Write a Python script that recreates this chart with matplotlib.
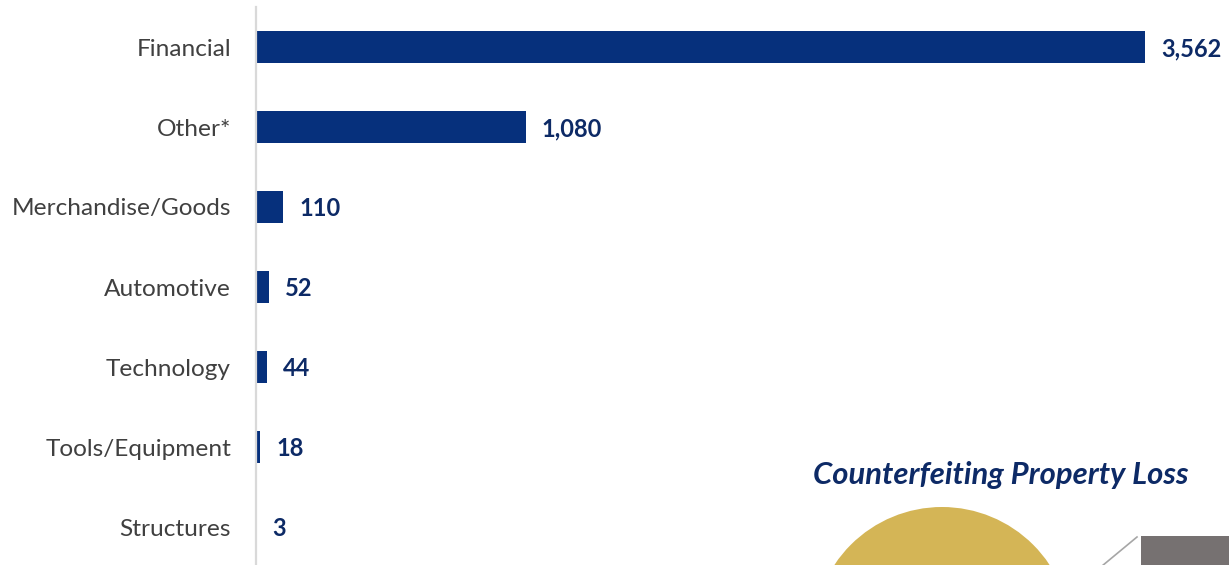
import matplotlib.pyplot as plt
from matplotlib.patches import Circle, Rectangle

# ================== DATA ==================
categories = ["Financial", "Other*", "Merchandise/Goods", "Automotive",
              "Technology", "Tools/Equipment", "Structures"]
values = [3562, 1080, 110, 52, 44, 18, 3]
title = "Counterfeiting Property Loss"

BAR_COLOR = "#06307C"
TEXT_NAVY = "#0D2A66"
GOLD = "#D4B556"
GREY_BOX = "#767171"

plt.rcParams["font.family"] = ["Lato", "DejaVu Sans"]

W, H = 1229, 565
fig = plt.figure(figsize=(W / 100, H / 100), dpi=100)

# ================== BAR CHART ==================
left = 256 / W
ax = fig.add_axes([left, 1 - 567 / H, 1 - left, 560 / H])
y = list(range(len(categories)))
ax.barh(y, values, height=0.39, color=BAR_COLOR)
ax.set_ylim(len(categories) - 0.5, -0.5)
ax.set_xlim(0, (W - 256) / 0.2496)
ax.set_yticks(y)
ax.set_yticklabels(categories, fontsize=17.6, color="#404040")
ax.tick_params(axis="y", length=0, pad=18)
ax.set_xticks([])
for s in ["top", "right", "bottom"]:
    ax.spines[s].set_visible(False)
ax.spines["left"].set_color("#D9D9D9")
ax.spines["left"].set_linewidth(1.6)
ax.patch.set_alpha(0)

for yi, v in zip(y, values):
    ax.annotate(f"{v:,}", xy=(v, yi), xytext=(16, -2), textcoords="offset pixels",
                ha="left", va="center", fontsize=17, fontweight="bold", color=TEXT_NAVY)

# ================== DECORATION (pixel overlay) ==================
ov = fig.add_axes([0, 0, 1, 1], zorder=-1)
ov.set_xlim(0, W)
ov.set_ylim(H, 0)
ov.axis("off")
ov.add_patch(Circle((942, 636), 129, color=GOLD, lw=0))
ov.add_patch(Rectangle((1141, 536), 100, 40, color=GREY_BOX, lw=0))
ov.plot([1137, 1102], [537, 566], color="#A6A6A6", lw=1.2)
ov.text(1001, 475, title, ha="center", va="center", fontsize=22.3,
        fontweight="bold", fontstyle="italic", color=TEXT_NAVY)

fig.savefig("out.png", dpi=100)
